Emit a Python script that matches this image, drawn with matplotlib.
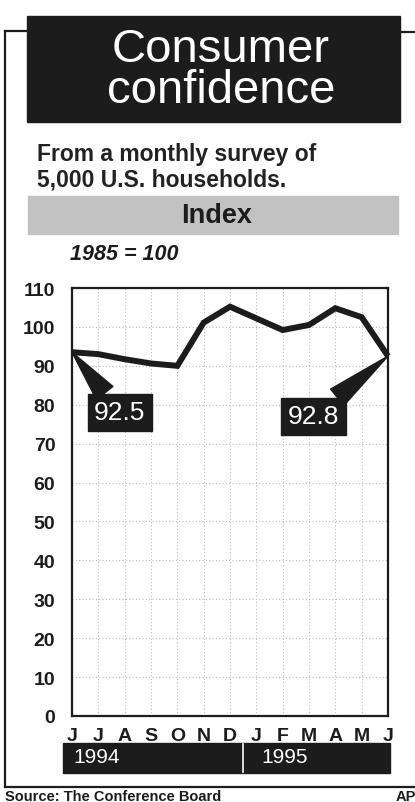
import matplotlib
matplotlib.use("Agg")
import matplotlib.pyplot as plt
import matplotlib.transforms as mtransforms
from matplotlib.patches import Rectangle

plt.rcParams['font.family'] = ['Liberation Sans', 'DejaVu Sans']

# Data (June 1994 - June 1995)
months = ['J', 'J', 'A', 'S', 'O', 'N', 'D', 'J', 'F', 'M', 'A', 'M', 'J']
index_vals = [93.5, 93.0, 91.7, 90.6, 90.0, 101.1, 105.2, 102.2, 99.2, 100.5, 104.8, 102.5, 92.5]
years = ['1994', '1995']
year_start = [0, 7]
yticks = list(range(0, 111, 10))

# Callouts at first and last month
callout_idx = [0, 12]
callout_text = ['92.5', '92.8']
callout_pos = [(1.82, 78.1), (9.18, 77.0)]

INK = '#1c1c1c'
W, H = 415, 803

fig = plt.figure(figsize=(W / 100, H / 100), dpi=100)
fig.patch.set_facecolor('white')

# overlay in pixel coordinates for the page furniture
deco = fig.add_axes([0, 0, 1, 1], zorder=0)
deco.set_xlim(0, W)
deco.set_ylim(H, 0)
deco.axis('off')

# frame lines
deco.plot([5, 5], [32, 788], color=INK, lw=1.6)
deco.plot([5, 28], [32, 32], color=INK, lw=1.6)
deco.plot([399, 415], [33, 33], color=INK, lw=1.6)
deco.plot([5, 415], [788, 788], color=INK, lw=1.6)

# title block (two lines in one text, tight leading; baseline = last line)
deco.add_patch(Rectangle((27, 17), 373, 106, color=INK))
deco.text(221, 103, 'Consumer\nconfidence', color='white', fontsize=34,
          ha='center', va='baseline', multialignment='center', linespacing=0.91)

deco.text(37, 161, 'From a monthly survey of', fontsize=16.5, fontweight='bold',
          color='#222222', ha='left', va='baseline')
deco.text(37, 186, '5,000 U.S. households.', fontsize=16.5, fontweight='bold',
          color='#222222', ha='left', va='baseline')

# grey "Index" band
deco.add_patch(Rectangle((28, 197), 370, 38, color='#c2c2c2'))
deco.text(217, 216, 'Index', fontsize=19.5, fontweight='bold', color=INK,
          ha='center', va='center')
deco.text(70, 255, '1985 = 100', fontsize=15.5, fontweight='bold', style='italic',
          color=INK, ha='left', va='center')

# source line below the frame
deco.text(5, 801, 'Source: The Conference Board', fontsize=10.5, fontweight='bold',
          color=INK, ha='left', va='baseline')
deco.text(396, 801, 'AP', fontsize=10.5, fontweight='bold',
          color=INK, ha='left', va='baseline')

# main chart
ax = fig.add_axes([72 / W, 1 - 717 / H, 316 / W, 428 / H], zorder=2)
x = list(range(len(months)))
ax.plot(x, index_vals, color=INK, lw=4.3, solid_joinstyle='miter',
        solid_capstyle='butt', clip_on=False, zorder=4)

ax.set_xlim(0, len(months) - 1)
ax.set_ylim(0, 110)
ax.set_xticks(x)
ax.set_xticklabels(months, fontsize=14, fontweight='bold', color=INK)
ax.set_yticks(yticks)
ax.set_yticklabels([str(v) for v in yticks], fontsize=14, fontweight='bold', color=INK)
ax.tick_params(axis='both', length=0)
ax.tick_params(axis='y', pad=12)
ax.tick_params(axis='x', pad=8)
ax.grid(True, color='#bcbcbc', linestyle=(0, (1, 2)), lw=0.8)
for s in ax.spines.values():
    s.set_linewidth(1.6)
    s.set_color(INK)

# callout boxes with wedge pointers
for i, txt, pos in zip(callout_idx, callout_text, callout_pos):
    ax.annotate(txt, xy=(x[i], index_vals[i]), xytext=pos,
                fontsize=19, color='white', ha='center', va='center',
                bbox=dict(boxstyle='square,pad=0.25', fc=INK, ec=INK),
                arrowprops=dict(arrowstyle='wedge,tail_width=0.8', fc=INK, ec=INK,
                                shrinkA=0, shrinkB=0),
                annotation_clip=False, zorder=5)

# year bar under the month letters
trans = mtransforms.blended_transform_factory(ax.transData, deco.transData)
bar_left, bar_right = -0.34, len(months) - 1 + 0.08
ax.add_patch(Rectangle((bar_left, 744), bar_right - bar_left, 30, transform=trans,
                       color=INK, clip_on=False))
for k, (yr, st) in enumerate(zip(years, year_start)):
    ax.text(st + 0.04 if k == 0 else st + 0.2, 758, yr, transform=trans,
            fontsize=15, color='white', ha='left', va='center', clip_on=False)
    if k > 0:
        ax.plot([st - 0.5, st - 0.5], [745, 773], transform=trans, color='white',
                lw=1.2, clip_on=False)
ax.set_xlim(0, len(months) - 1)
ax.set_ylim(0, 110)

fig.savefig('out.png', dpi=100)
